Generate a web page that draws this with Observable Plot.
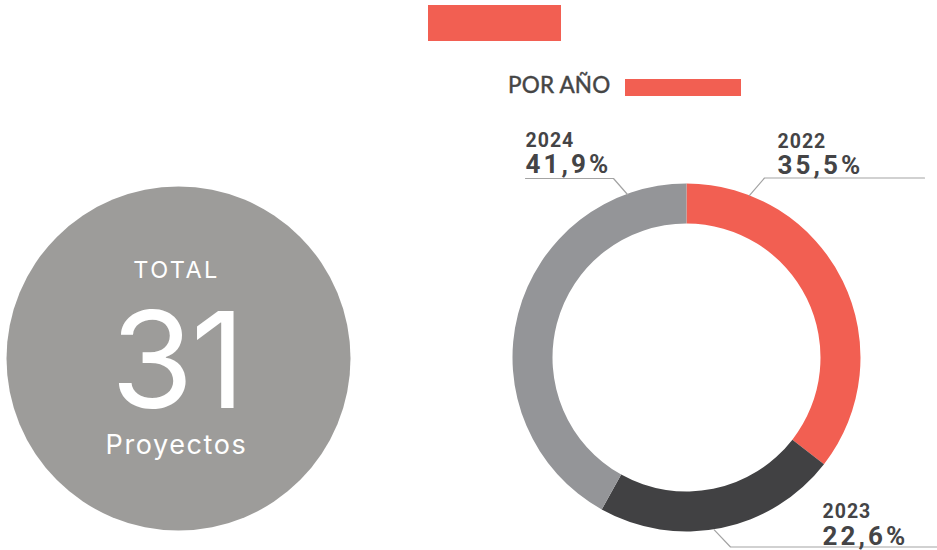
<!DOCTYPE html>
<html>
<head>
<meta charset="utf-8">
<script src="https://cdn.jsdelivr.net/npm/d3@7"></script>
<script src="https://cdn.jsdelivr.net/npm/@observablehq/plot@0.6"></script>
<style>
  html, body { margin: 0; padding: 0; background: #fff; }
  #wrap { position: relative; width: 937px; height: 550px; overflow: hidden; }
  #wrap svg { position: absolute; left: 0; top: 0; }
  .hdr-rect { position: absolute; left: 428px; top: 5px; width: 133px; height: 36px; background: #f25f52; }
  .hdr-title { position: absolute; left: 508px; top: 71px; font-family: Lato, "Noto Sans", sans-serif; font-size: 22.5px; font-weight: 400; color: #454545; letter-spacing: 0.2px; line-height: 28px; -webkit-text-stroke: 0.45px #454545; z-index: 2; }
  .hdr-bar { position: absolute; left: 625px; top: 79px; width: 116px; height: 17px; background: #f25f52; z-index: 2; }
  g[aria-description="total-label"] text { letter-spacing: 2.4px; }
  g[aria-description="total-value"] text { letter-spacing: -3px; }
  g[aria-description="total-unit"] text { letter-spacing: 1.6px; }
  g[aria-description="year"] text { letter-spacing: 1px; }
  g[aria-description="share"] text { letter-spacing: 3.1px; }
</style>
</head>
<body>
<div id="wrap">
  <div class="hdr-rect"></div>
  <div class="hdr-title" id="title"></div>
  <div class="hdr-bar"></div>
</div>
<script>
// ---- data ----
const sectionTitle = "POR AÑO";
const totalLabel = "TOTAL";
const totalValue = 31;
const totalUnit = "Proyectos";
const years = ["2022", "2023", "2024"];
const shares = [35.5, 22.6, 41.9];          // percent of projects per year

// ---- styles / layout (not data) ----
const palette = ["#f25f52", "#414143", "#949598"];
const layout = {
  total: { cx: 178, cy: 358, r: 172, tx: 176, labelY: 277, valueY: 407, unitY: 453 },
  donut: { cx: 686.5, cy: 357.5, outer: 174, inner: 134 }
};
// label placement per year: ring angle where the leader starts, elbow, end, text origin
const labelLayout = {
  "2022": { angle: 21, elbow: [764, 177.5], end: [924, 177.5], tx: 777, yearY: 147, shareY: 173 },
  "2023": { angle: 171, elbow: [730, 546.5], end: [937, 546.5], tx: 822, yearY: 517, shareY: 544 },
  "2024": { angle: -20, elbow: [613, 178], end: [525, 178], tx: 525, yearY: 146, shareY: 172 }
};

document.getElementById("title").textContent = sectionTitle;

const rows = years.map((year, i) => ({ year, share: shares[i] }));
const fmt = v => v.toFixed(1).replace(".", ",") + "%";
const colorScale = Plot.scale({ color: { type: "ordinal", domain: years, range: palette } });

// leader line points, derived from the ring geometry and the label layout
const D = layout.donut;
const leaders = rows.flatMap(r => {
  const L = labelLayout[r.year];
  const a = L.angle * Math.PI / 180;
  const start = [D.cx + D.outer * Math.sin(a), D.cy - D.outer * Math.cos(a)];
  return [start, L.elbow, L.end].map(([x, y]) => ({ year: r.year, x, y }));
});
const labels = rows.map(r => ({ ...r, ...labelLayout[r.year], text: fmt(r.share) }));

function donutMark(index, scales) {
  const g = d3.create("svg:g")
    .attr("transform", `translate(${scales.x(D.cx)},${scales.y(D.cy)})`);
  const arcs = d3.pie().sort(null).value(d => d.share)(rows);
  const arc = d3.arc().innerRadius(D.inner).outerRadius(D.outer);
  g.selectAll("path").data(arcs).join("path")
    .attr("d", arc)
    .attr("fill", d => colorScale.apply(d.data.year));
  return g.node();
}

const T = layout.total;
const totalRow = [{ label: totalLabel, value: totalValue, unit: totalUnit }];

const chart = Plot.plot({
  width: 937,
  height: 550,
  margin: 0,
  style: { background: "transparent", overflow: "visible" },
  x: { domain: [0, 937], range: [0, 937], axis: null },
  y: { domain: [0, 550], range: [0, 550], axis: null },
  marks: [
    // total bubble
    Plot.dot(totalRow, { x: () => T.cx, y: () => T.cy, r: T.r, fill: "#9d9c9a", stroke: null }),
    Plot.text(totalRow, { x: () => T.tx, y: () => T.labelY, text: "label", lineAnchor: "bottom", textAnchor: "middle",
      fill: "white", fontSize: 23.5, fontWeight: 400, fontFamily: "Inter, sans-serif", ariaDescription: "total-label" }),
    Plot.text(totalRow, { x: () => T.tx, y: () => T.valueY, text: d => String(d.value), lineAnchor: "bottom", textAnchor: "middle",
      fill: "white", fontSize: 134, fontWeight: 400, fontFamily: "Inter, sans-serif", ariaDescription: "total-value" }),
    Plot.text(totalRow, { x: () => T.tx, y: () => T.unitY, text: "unit", lineAnchor: "bottom", textAnchor: "middle",
      fill: "white", fontSize: 27, fontWeight: 400, fontFamily: "Inter, sans-serif", ariaDescription: "total-unit" }),
    // donut
    donutMark,
    // leader lines
    Plot.line(leaders, { x: "x", y: "y", z: "year", stroke: "#a3a3a3", strokeWidth: 1.2, curve: "linear" }),
    // labels
    Plot.text(labels, { x: "tx", y: "yearY", text: "year", lineAnchor: "bottom", textAnchor: "start",
      fill: "#444446", fontSize: 19.5, fontWeight: 700, fontFamily: "Roboto, sans-serif", ariaDescription: "year" }),
    Plot.text(labels, { x: "tx", y: "shareY", text: "text", lineAnchor: "bottom", textAnchor: "start",
      fill: "#444446", fontSize: 26, fontWeight: 700, fontFamily: "Roboto, sans-serif", ariaDescription: "share" })
  ]
});

document.getElementById("wrap").appendChild(chart);
</script>
</body>
</html>
